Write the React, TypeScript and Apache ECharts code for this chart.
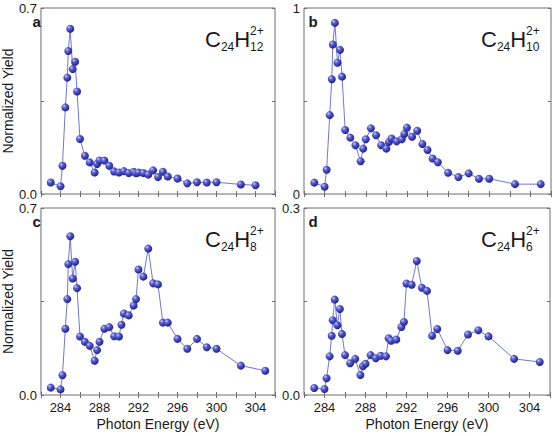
import React, { useEffect, useRef } from "react";
import * as echarts from "echarts";

// ---- data ----
const energiesA = [
  283, 284, 284.2, 284.5, 284.7, 284.8, 285, 285.25, 285.5, 285.7, 286, 286.5, 287, 287.5, 287.75,
  288, 288.5, 289, 289.5, 290, 290.5, 291, 291.5, 291.75, 292, 292.5, 293, 293.5, 294, 294.5, 295,
  296, 297, 298, 299, 300, 302.5, 304,
];
const yieldA = [
  0.043, 0.029, 0.106, 0.326, 0.438, 0.538, 0.622, 0.47, 0.498, 0.386, 0.207, 0.144, 0.119, 0.081,
  0.113, 0.126, 0.126, 0.106, 0.085, 0.081, 0.086, 0.079, 0.084, 0.078, 0.081, 0.079, 0.073, 0.089,
  0.064, 0.084, 0.066, 0.058, 0.04, 0.044, 0.043, 0.044, 0.036, 0.033,
];
const energiesBCD = [
  283, 284, 284.2, 284.5, 284.7, 284.8, 285, 285.25, 285.5, 285.7, 286, 286.5, 287, 287.5, 287.75,
  288, 288.5, 289, 289.5, 290, 290.25, 290.5, 291, 291.5, 291.75, 292, 292.5, 293, 293.5, 294, 294.5,
  295, 296, 297, 298, 299, 300, 302.5, 305,
];
const yieldB = [
  0.061, 0.039, 0.13, 0.424, 0.617, 0.804, 0.92, 0.706, 0.775, 0.631, 0.344, 0.303, 0.262, 0.176,
  0.244, 0.294, 0.353, 0.316, 0.262, 0.244, 0.28, 0.298, 0.283, 0.294, 0.323, 0.357, 0.308, 0.34,
  0.269, 0.237, 0.191, 0.171, 0.114, 0.091, 0.111, 0.082, 0.082, 0.053, 0.053,
];
const yieldC = [
  0.0275, 0.021, 0.074, 0.248, 0.359, 0.49, 0.594, 0.436, 0.499, 0.4, 0.219, 0.199, 0.184, 0.128,
  0.168, 0.199, 0.248, 0.254, 0.22, 0.219, 0.263, 0.305, 0.298, 0.335, 0.359, 0.47, 0.443, 0.548,
  0.418, 0.414, 0.271, 0.271, 0.21, 0.173, 0.21, 0.179, 0.173, 0.11, 0.091,
];
const yieldD = [
  0.0112, 0.0096, 0.027, 0.062, 0.095, 0.12, 0.153, 0.112, 0.138, 0.098, 0.064, 0.051, 0.058, 0.032,
  0.046, 0.05, 0.064, 0.059, 0.063, 0.062, 0.091, 0.087, 0.089, 0.109, 0.117, 0.179, 0.177, 0.215,
  0.172, 0.167, 0.095, 0.106, 0.072, 0.071, 0.097, 0.104, 0.094, 0.058, 0.053,
];
const panelLetters = ["a", "b", "c", "d"];
const hydrogenCounts = ["12", "10", "8", "6"];
const yMaxValues = [0.7, 1, 0.7, 0.3];
const yMaxLabels = ["0.7", "1", "0.7", "0.3"];
const yMinLabels = ["0.0", "0", "0.0", "0.0"];
const xMin = 282;
const xMax = 306;
const xLabelStep = 4;
const xTitle = "Photon Energy (eV)";
const yTitle = "Normalized Yield";

const FONT = "'Liberation Sans', Arial, Helvetica, sans-serif";
const TEXT = "#1a1a1a";
const FRAME = "#6f6f6f";

const App: React.FC = () => {
  const ref = useRef<HTMLDivElement>(null);

  useEffect(() => {
    document.body.style.margin = "0";
    if (!ref.current) return;
    const chart = echarts.init(ref.current, undefined, { renderer: "svg" });

    const energiesList = [energiesA, energiesBCD, energiesBCD, energiesBCD];
    const yieldList = [yieldA, yieldB, yieldC, yieldD];
    const lefts = [28, 304, 28, 304];
    const tops = [8, 8, 208, 208];
    const width = 247;
    const heights = [186, 186, 187, 187];

    const grids = lefts.map((l, i) => ({
      left: l,
      top: tops[i],
      width,
      height: heights[i],
      show: true,
      borderColor: FRAME,
      borderWidth: 1,
      backgroundColor: "transparent",
    }));

    const tick = { show: true, inside: true, length: 3, lineStyle: { color: FRAME, width: 1 } };

    const xAxes: any[] = [];
    const yAxes: any[] = [];
    for (let i = 0; i < 4; i++) {
      const bottomRow = i >= 2;
      xAxes.push({
        type: "value",
        gridIndex: i,
        min: xMin,
        max: xMax,
        interval: 2,
        position: "bottom",
        axisLine: { show: false },
        axisTick: tick,
        splitLine: { show: false },
        axisLabel: {
          show: bottomRow,
          margin: 6,
          fontSize: 13,
          fontFamily: FONT,
          color: TEXT,
          formatter: (v: number) => (Math.abs(v % xLabelStep) < 1e-6 ? String(v) : ""),
        },
        name: bottomRow ? xTitle : "",
        nameLocation: "middle",
        nameGap: 22,
        nameTextStyle: { fontSize: 14, fontFamily: FONT, color: TEXT },
      });
      const ymax = yMaxValues[i];
      yAxes.push({
        type: "value",
        gridIndex: i,
        min: 0,
        max: ymax,
        interval: ymax / 2,
        position: "left",
        axisLine: { show: false },
        axisTick: tick,
        splitLine: { show: false },
        axisLabel: {
          show: true,
          margin: 4,
          fontSize: 13,
          fontFamily: FONT,
          color: TEXT,
          showMinLabel: true,
          showMaxLabel: true,
          formatter: (v: number) =>
            Math.abs(v) < 1e-9 ? yMinLabels[i] : Math.abs(v - ymax) < 1e-9 ? yMaxLabels[i] : "",
        },
        name: i % 2 === 0 ? yTitle : "",
        nameLocation: "middle",
        nameGap: 13,
        nameTextStyle: { fontSize: 14, fontFamily: FONT, color: TEXT },
      });
    }
    // mirrored ticks (top / right)
    for (let i = 0; i < 4; i++) {
      xAxes.push({
        type: "value",
        gridIndex: i,
        min: xMin,
        max: xMax,
        interval: 2,
        position: "top",
        axisLine: { show: false },
        axisTick: tick,
        splitLine: { show: false },
        axisLabel: { show: false },
      });
      yAxes.push({
        type: "value",
        gridIndex: i,
        min: 0,
        max: yMaxValues[i],
        interval: yMaxValues[i] / 2,
        position: "right",
        axisLine: { show: false },
        axisTick: tick,
        splitLine: { show: false },
        axisLabel: { show: false },
      });
    }

    const markerColor = new echarts.graphic.RadialGradient(0.35, 0.32, 0.7, [
      { offset: 0, color: "#c9ccf7" },
      { offset: 0.35, color: "#5a5fd0" },
      { offset: 1, color: "#1c1f8c" },
    ]);

    const series = yieldList.map((ys, i) => ({
      type: "line",
      xAxisIndex: i,
      yAxisIndex: i,
      data: ys.map((y, k) => [energiesList[i][k], y]),
      symbol: "circle",
      symbolSize: 8,
      showSymbol: true,
      lineStyle: { color: "#6f77da", width: 1 },
      itemStyle: { color: markerColor },
      z: 3,
    }));

    const graphics: any[] = [];
    const txt = (x: number, y: number, text: string, font: string, align = "left") => ({
      type: "text",
      x,
      y,
      z: 10,
      style: {
        text,
        font,
        fill: TEXT,
        align,
        verticalAlign: "middle",
        textAlign: align,
        textVerticalAlign: "middle",
      },
    });
    for (let i = 0; i < 4; i++) {
      const gl = lefts[i];
      const gt = tops[i];
      graphics.push(txt(gl + 4.5, gt + 13.8, panelLetters[i], `bold 15px ${FONT}`));
      const L = gl + 177;
      const mainFont = `22px ${FONT}`;
      const subFont = `12px ${FONT}`;
      graphics.push(txt(L, gt + 31.9, "C", mainFont));
      graphics.push(txt(L + 15.9, gt + 38.8, "24", subFont));
      graphics.push(txt(L + 29.2, gt + 31.9, "H", mainFont));
      graphics.push(txt(L + 45.1, gt + 38.8, hydrogenCounts[i], subFont));
      graphics.push(txt(L + 45.1, gt + 22.8, "2+", subFont));
    }

    chart.setOption({
      animation: false,
      backgroundColor: "#ffffff",
      textStyle: { fontFamily: FONT },
      grid: grids,
      xAxis: xAxes,
      yAxis: yAxes,
      series,
      graphic: graphics,
    });

    return () => chart.dispose();
  }, []);

  return (
    <div
      ref={ref}
      style={{ width: 553, height: 436, position: "absolute", left: 0, top: 0 }}
    />
  );
};

export default App;
